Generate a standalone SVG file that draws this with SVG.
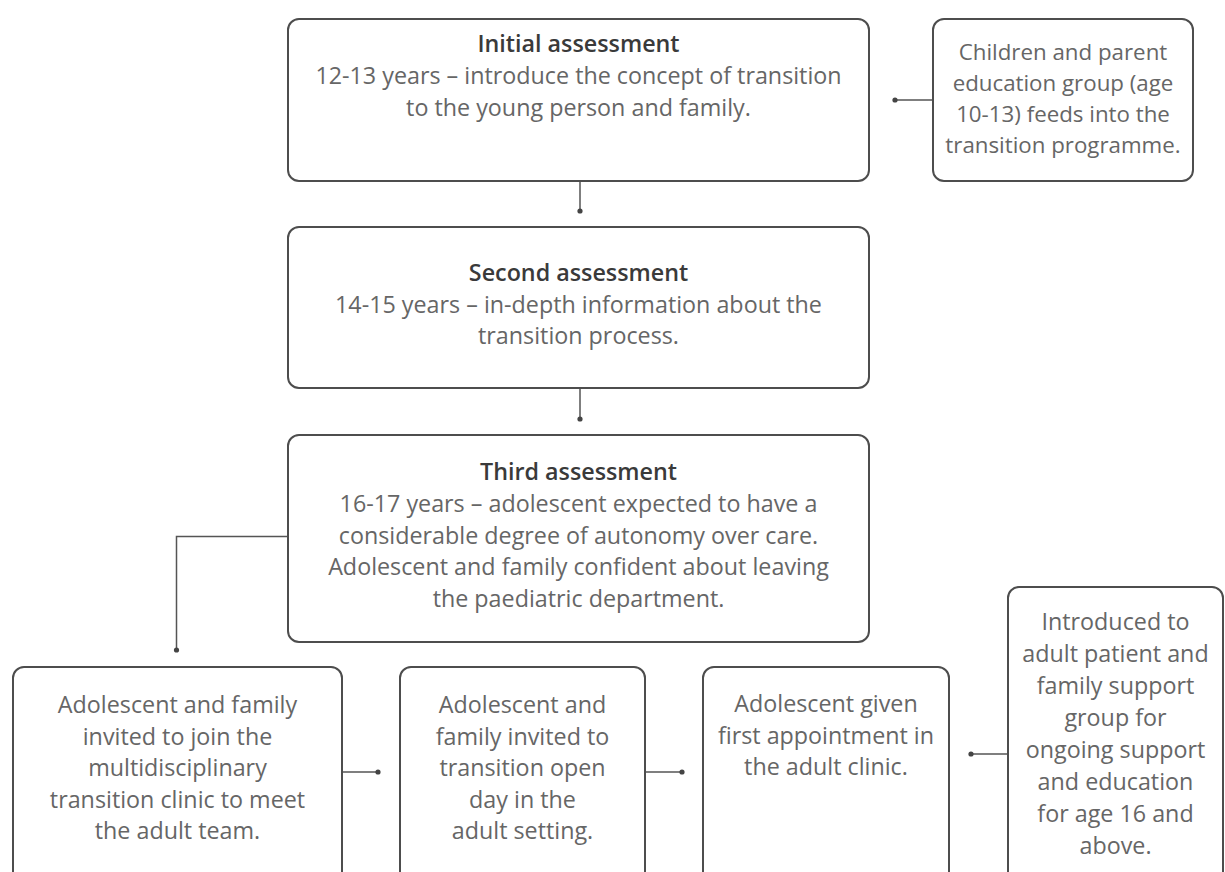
<svg xmlns="http://www.w3.org/2000/svg" width="1225" height="872" viewBox="0 0 1225 872">
<style>
.box{fill:#fff;stroke:#4d4d4d;stroke-width:2}
.t{font-family:"Open Sans","Noto Sans","Liberation Sans",sans-serif;font-size:23.3px;fill:#666;text-anchor:middle}
.s{font-size:22.3px}
.h{font-weight:600;fill:#3a3a3a}
.c{fill:none;stroke:#555;stroke-width:1.5}
</style>
<defs>
<marker id="dot" markerUnits="userSpaceOnUse" markerWidth="8" markerHeight="8" refX="4" refY="4" orient="auto">
<circle cx="4" cy="4" r="2.6" fill="#444"/>
</marker>
</defs>
<rect width="1225" height="872" fill="#fff"/>
<g id="connectors">
<path class="c" d="M933 100H895" marker-end="url(#dot)"/>
<path class="c" d="M580 181V211" marker-end="url(#dot)"/>
<path class="c" d="M580 388V419" marker-end="url(#dot)"/>
<path class="c" d="M288 536.5H176.5V650" marker-end="url(#dot)"/>
<path class="c" d="M342 772H378" marker-end="url(#dot)"/>
<path class="c" d="M645 772H682" marker-end="url(#dot)"/>
<path class="c" d="M1008 754H971" marker-end="url(#dot)"/>
</g>
<g id="initial">
<rect class="box" x="288" y="19" width="581" height="162" rx="11"/>
<text class="t" x="578.5" y="52"><tspan class="h">Initial assessment</tspan><tspan x="578.5" dy="32">12-13 years – introduce the concept of transition</tspan><tspan x="578.5" dy="32">to the young person and family.</tspan></text>
</g>
<g id="children">
<rect class="box" x="933" y="19" width="260" height="162" rx="11"/>
<text class="t s" x="1063" y="60"><tspan>Children and parent</tspan><tspan x="1063" dy="31">education group (age</tspan><tspan x="1063" dy="31">10-13) feeds into the</tspan><tspan x="1063" dy="31">transition programme.</tspan></text>
</g>
<g id="second">
<rect class="box" x="288" y="227" width="581" height="161" rx="11"/>
<text class="t" x="578.5" y="281"><tspan class="h">Second assessment</tspan><tspan x="578.5" dy="31.5">14-15 years – in-depth information about the</tspan><tspan x="578.5" dy="31.5">transition process.</tspan></text>
</g>
<g id="third">
<rect class="box" x="288" y="435" width="581" height="207" rx="11"/>
<text class="t" x="578.5" y="480"><tspan class="h">Third assessment</tspan><tspan x="578.5" dy="31.8">16-17 years – adolescent expected to have a</tspan><tspan x="578.5" dy="31.8">considerable degree of autonomy over care.</tspan><tspan x="578.5" dy="31.8">Adolescent and family confident about leaving</tspan><tspan x="578.5" dy="31.8">the paediatric department.</tspan></text>
</g>
<g id="clinic">
<rect class="box" x="13" y="667" width="329" height="230" rx="11"/>
<text class="t" x="177.5" y="713"><tspan>Adolescent and family</tspan><tspan x="177.5" dy="31.5">invited to join the</tspan><tspan x="177.5" dy="31.5">multidisciplinary</tspan><tspan x="177.5" dy="31.5">transition clinic to meet</tspan><tspan x="177.5" dy="31.5">the adult team.</tspan></text>
</g>
<g id="openday">
<rect class="box" x="400" y="667" width="245" height="230" rx="11"/>
<text class="t" x="522.5" y="713"><tspan>Adolescent and</tspan><tspan x="522.5" dy="31.5">family invited to</tspan><tspan x="522.5" dy="31.5">transition open</tspan><tspan x="522.5" dy="31.5">day in the</tspan><tspan x="522.5" dy="31.5">adult setting.</tspan></text>
</g>
<g id="appointment">
<rect class="box" x="703" y="667" width="246" height="230" rx="11"/>
<text class="t" x="826" y="712"><tspan>Adolescent given</tspan><tspan x="826" dy="31.5">first appointment in</tspan><tspan x="826" dy="31.5">the adult clinic.</tspan></text>
</g>
<g id="support">
<rect class="box" x="1008" y="587" width="215" height="310" rx="11"/>
<text class="t" x="1115.5" y="630"><tspan>Introduced to</tspan><tspan x="1115.5" dy="32">adult patient and</tspan><tspan x="1115.5" dy="32">family support</tspan><tspan x="1115.5" dy="32">group for</tspan><tspan x="1115.5" dy="32">ongoing support</tspan><tspan x="1115.5" dy="32">and education</tspan><tspan x="1115.5" dy="32">for age 16 and</tspan><tspan x="1115.5" dy="32">above.</tspan></text>
</g>
</svg>
